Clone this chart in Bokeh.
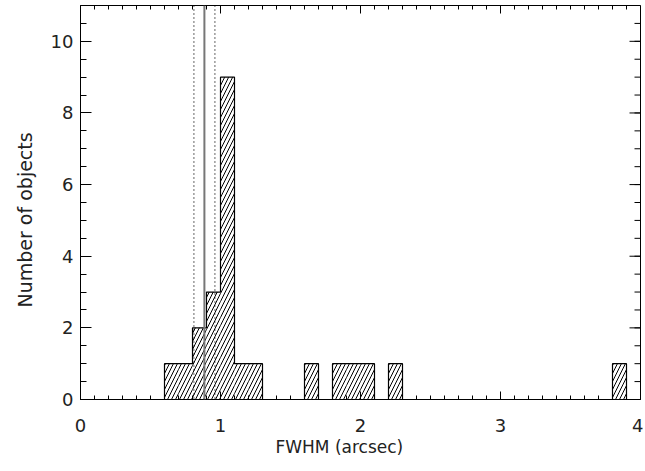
import math
import numpy as np
from bokeh.plotting import figure
from bokeh.models import SingleIntervalTicker, Range1d, Span, Title
from bokeh.embed import file_html
from bokeh.resources import INLINE

# Histogram data (bin left edges, counts), bin width 0.1 arcsec
bin_left = [0.6, 0.7, 0.8, 0.9, 1.0, 1.1, 1.2, 1.6, 1.8, 1.9, 2.0, 2.2, 3.8]
counts = [1, 1, 2, 3, 9, 1, 1, 1, 1, 1, 1, 1, 1]
bin_width = 0.1

# Reference lines: median (solid) and spread (dotted)
median_fwhm = 0.885
spread_lo = 0.81
spread_hi = 0.96

x_min, x_max = 0, 4
y_min, y_max = 0, 11
x_major_step, x_minor_per = 1, 10
y_major_step, y_minor_per = 2, 4

x_title = "FWHM (arcsec)"
y_title = "Number of objects"

FONT = "DejaVu Sans"
TXT = "#222222"

p = figure(width=643, height=463, output_backend="svg", toolbar_location=None,
           x_range=Range1d(x_min, x_max), y_range=Range1d(y_min, y_max),
           min_border_left=80, min_border_right=3, min_border_top=5, min_border_bottom=64)
p.grid.visible = False
p.outline_line_color = "black"
p.outline_line_width = 1
p.background_fill_color = "white"
p.border_fill_color = "white"

right_edges = [l + bin_width for l in bin_left]
p.quad(left=bin_left, right=right_edges, bottom=0, top=counts,
       fill_color=None, line_color=None,
       hatch_pattern="/", hatch_color="black", hatch_scale=8, hatch_weight=1)

# outline of the histogram: step path per contiguous group
groups = []
cur = None
for l, r, c in zip(bin_left, right_edges, counts):
    if cur is not None and abs(cur[-1][0] - l) < 1e-9:
        cur.append((r, c, l))
    else:
        cur = [(r, c, l)]
        groups.append(cur)
for g in groups:
    xs = [g[0][2]]
    ys = [0]
    for (r, c, l) in g:
        xs += [l, r]
        ys += [c, c]
    xs.append(g[-1][0])
    ys.append(0)
    p.line(xs, ys, line_color="black", line_width=1.2)

p.add_layout(Span(location=median_fwhm, dimension="height", line_color="#777777", line_width=2))
for loc in (spread_lo, spread_hi):
    p.add_layout(Span(location=loc, dimension="height", line_color="black",
                      line_width=1.2, line_dash="1 3"))

def style(ax, major, minor):
    ax.axis_line_color = "black"
    ax.major_tick_line_color = "black"
    ax.minor_tick_line_color = "black"
    ax.major_tick_in = major
    ax.major_tick_out = 0
    ax.minor_tick_in = minor
    ax.minor_tick_out = 0

xa = p.xaxis[0]
xa.ticker = SingleIntervalTicker(interval=x_major_step, num_minor_ticks=x_minor_per)
style(xa, 8, 4)
xa.major_label_text_font = FONT
xa.major_label_text_font_size = "18px"
xa.major_label_text_color = TXT
xa.major_label_standoff = 19

ya = p.yaxis[0]
ya.ticker = SingleIntervalTicker(interval=y_major_step, num_minor_ticks=y_minor_per)
style(ya, 11, 6)
ya.major_label_text_font = FONT
ya.major_label_text_font_size = "18px"
ya.major_label_text_color = TXT
ya.major_label_standoff = 7

# axis titles (placed as in the original, slightly off-centre)
p.add_layout(Title(text=x_title, align="left", offset=195, standoff=0,
                   text_font=FONT, text_font_size="17px", text_font_style="normal",
                   text_color=TXT), "below")
p.add_layout(Title(text=y_title, align="left", offset=92, standoff=23,
                   text_font=FONT, text_font_size="19px", text_font_style="normal",
                   text_color=TXT), "left")

# mirrored inward ticks on the top and right frame edges (screen-length rays)
x_major = np.arange(x_min, x_max + 1e-9, x_major_step)
x_minor = np.arange(x_min, x_max + 1e-9, x_major_step / x_minor_per)
y_major = np.arange(y_min, y_max + 1e-9, y_major_step)
y_minor = np.arange(y_min, y_max + 1e-9, y_major_step / y_minor_per)

p.ray(x=x_minor, y=y_max, length=4, length_units="screen", angle=-math.pi / 2,
      line_color="black", line_width=1)
p.ray(x=x_major, y=y_max, length=8, length_units="screen", angle=-math.pi / 2,
      line_color="black", line_width=1)
p.ray(x=x_max, y=y_minor, length=6, length_units="screen", angle=math.pi,
      line_color="black", line_width=1)
p.ray(x=x_max, y=y_major, length=11, length_units="screen", angle=math.pi,
      line_color="black", line_width=1)

open("out.html", "w").write(file_html(p, INLINE))
